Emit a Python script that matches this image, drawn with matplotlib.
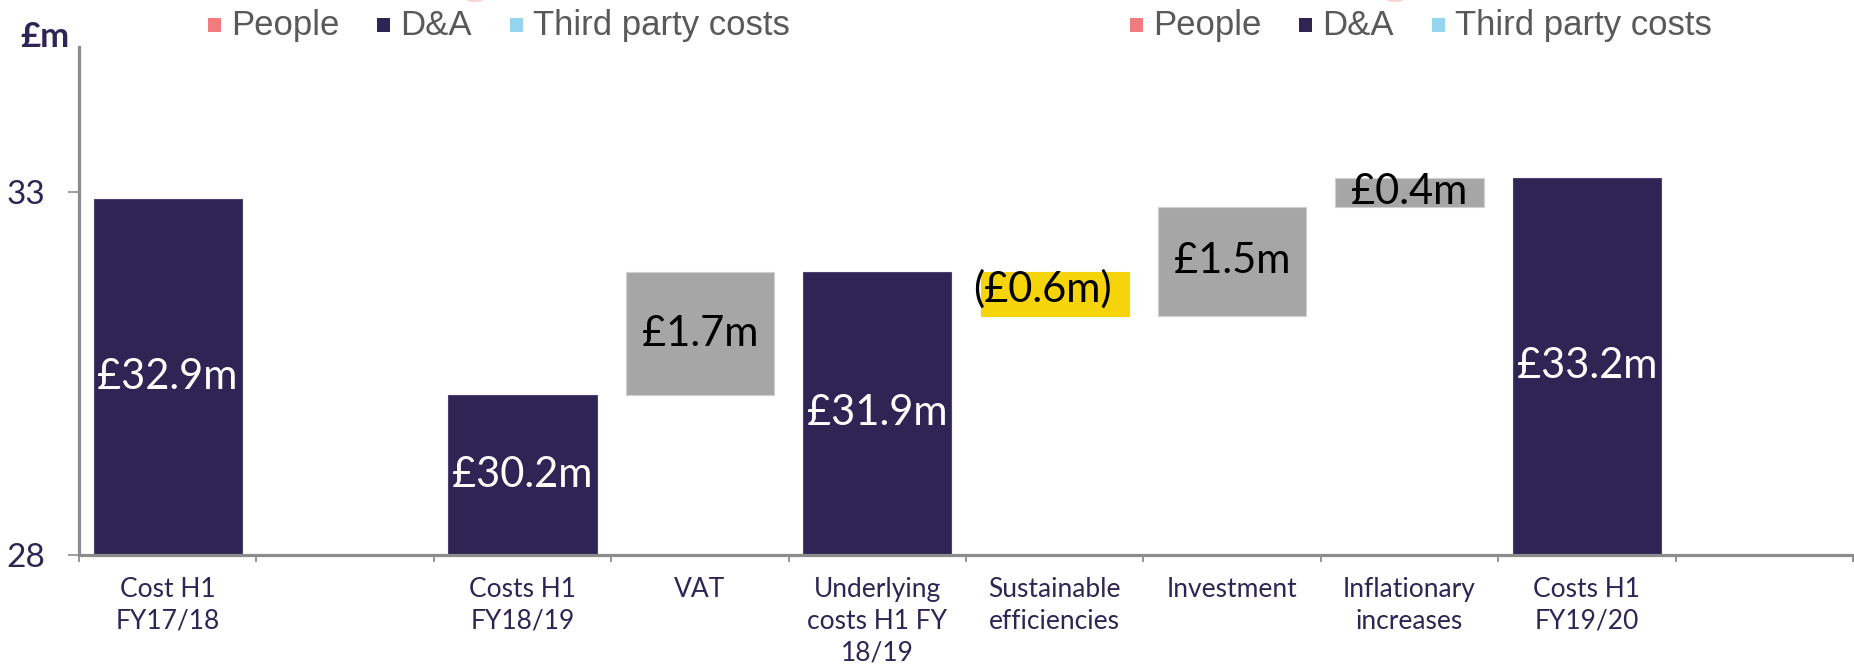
import matplotlib
matplotlib.use("Agg")
import matplotlib.pyplot as plt
from matplotlib.patches import Rectangle, Ellipse

# ---- data -------------------------------------------------------------
categories = [
    "Cost H1\nFY17/18", "", "Costs H1\nFY18/19", "VAT",
    "Underlying\ncosts H1 FY\n18/19", "Sustainable\nefficiencies",
    "Investment", "Inflationary\nincreases", "Costs H1\nFY19/20", "",
]
# "total" bars stand on the axis floor, "step" bars float on the running total
kinds = ["total", None, "total", "step", "total", "step", "step", "step", "total", None]
values = [32.9, None, 30.2, 1.7, 31.9, -0.6, 1.5, 0.4, 33.2, None]

legend_labels = ["People", "D&A", "Third party costs"]
y_ticks = [28, 33]
y_min, y_max = 28, 35

# ---- styling ----------------------------------------------------------
NAVY = "#2E2555"
GREY_BAR = "#A6A6A6"
YELLOW = "#F5D40A"
AXIS_GREY = "#8C8C8C"
LEGEND_TEXT = "#595959"
legend_colors = ["#F27B80", NAVY, "#95D5F0"]

W, H = 1854, 665
fig = plt.figure(figsize=(W / 100, H / 100), dpi=100)
ax = fig.add_axes([79 / W, (H - 555) / H, (1853 - 79) / W, (555 - 47) / H])

bar_width = 0.835
running = None
for i, (kind, val) in enumerate(zip(kinds, values)):
    if kind is None:
        continue
    if kind == "total":
        ax.bar(i, val, width=bar_width, bottom=0, color=NAVY,
               edgecolor="#4A4272", linewidth=0.8, zorder=2)
        running = val
        label = f"£{val:.1f}m"
        ax.text(i, (y_min + val) / 2, label, ha="center", va="center",
                color="white", fontsize=30, family="Lato", zorder=3)
    else:
        lo = running if val >= 0 else running + val
        color = GREY_BAR if val >= 0 else YELLOW
        edge = "#D0D0D0" if val >= 0 else YELLOW
        ax.bar(i, abs(val), width=bar_width, bottom=lo, color=color,
               edgecolor=edge, linewidth=0.8, zorder=2)
        label = f"£{val:.1f}m" if val >= 0 else f"(£{abs(val):.1f}m)"
        dx = 0 if val >= 0 else -0.07
        dy = 0 if val >= 0 else 0.06
        ax.text(i + dx, lo + abs(val) / 2 + dy, label, ha="center", va="center",
                color="black", fontsize=30, family="Lato", zorder=3)
        running = running + val

ax.set_xlim(-0.5, len(categories) - 0.5)
ax.set_ylim(y_min, y_max)

for side in ("top", "right"):
    ax.spines[side].set_visible(False)
for side in ("left", "bottom"):
    ax.spines[side].set_color(AXIS_GREY)
    ax.spines[side].set_linewidth(2.3)

ax.set_yticks(y_ticks)
ax.set_yticklabels([str(t) for t in y_ticks], family="Lato", fontsize=24, color=NAVY)
ax.tick_params(axis="y", length=8, width=1.2, color=AXIS_GREY, pad=16, direction="out")

ax.set_xticks(range(len(categories)))
ax.set_xticklabels(categories, family="Lato", fontsize=19, color=NAVY, linespacing=1.32)
ax.tick_params(axis="x", which="major", length=0, pad=16)
ax.set_xticks([i - 0.5 for i in range(len(categories) + 1)], minor=True)
ax.tick_params(axis="x", which="minor", length=5, width=1.3, color=AXIS_GREY, direction="out")

fig.text(45 / W, 1 - 37 / H, "£m", ha="center", va="center", color=NAVY,
         fontsize=25, fontweight="bold", family="Lato")

# ---- legends (two identical rows) ---------------------------------------
fig.canvas.draw()
renderer = fig.canvas.get_renderer()
for start in (208, 1130):
    x = start
    for lab, col in zip(legend_labels, legend_colors):
        fig.add_artist(Rectangle((x / W, 1 - 32 / H), 13 / W, 14 / H,
                                 transform=fig.transFigure, color=col, lw=0))
        t = fig.text((x + 23) / W, 1 - 35 / H, lab, ha="left", va="baseline",
                     color=LEGEND_TEXT, fontsize=25, family="Liberation Sans")
        bb = t.get_window_extent(renderer)
        x = bb.x1 + 38

# faint marks cut off at the top edge
for cx in (475, 1395):
    fig.add_artist(Ellipse((cx / W, 1 + 9 / H), 30 / W, 22 / H,
                           transform=fig.transFigure, color="#F9CFD0", lw=0))

fig.savefig("out.png", dpi=100)
